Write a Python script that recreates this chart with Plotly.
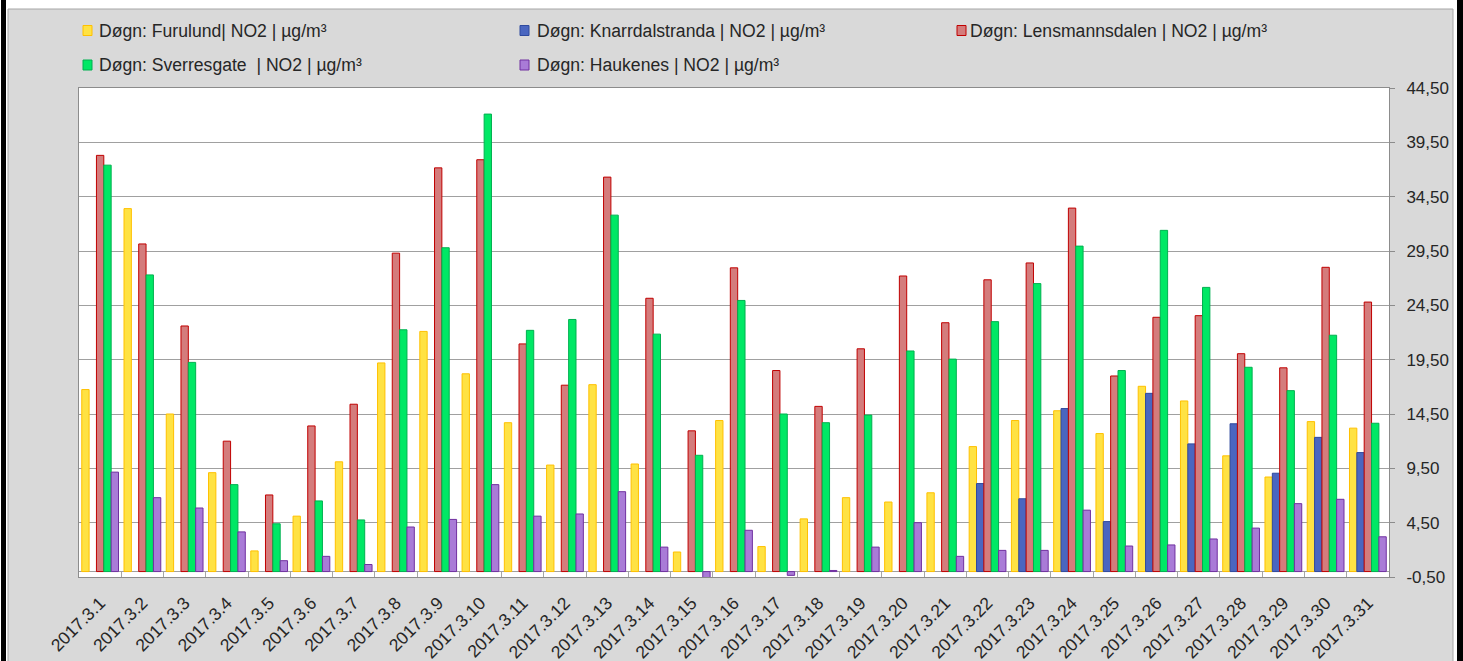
"""
NO2 døgnmiddel, mars 2017 (gruppert stolpediagram)
"""
import plotly.graph_objects as go

# Datoer (kategorier)
dates = ["2017.3.%d" % d for d in range(1, 32)]

# Akseverdier på høyre side
y_ticks = [-0.5, 4.5, 9.5, 14.5, 19.5, 24.5, 29.5, 34.5, 39.5, 44.5]
y_labels = ["%.2f" % v for v in y_ticks]
y_labels = [s.replace(".", ",") for s in y_labels]

# Døgnverdier NO2 (µg/m³) lest av figuren
furulund = [16.75, 33.4, 14.5, 9.1, 1.9, 5.1, 10.1, 19.2, 22.1, 18.2,
            13.7, 9.8, 17.2, 9.9, 1.8, 13.9, 2.3, 4.85, 6.8, 6.4,
            7.25, 11.5, 13.9, 14.8, 12.7, 17.05, 15.7, 10.65, 8.7, 13.8, 13.2]
knarrdalstranda = [None] * 21 + [8.1, 6.7, 15.0, 4.6, 16.4, 11.75, 13.6, 9.05, 12.35, 10.95]
lensmannsdalen = [38.3, 30.15, 22.6, 12.0, 7.05, 13.4, 15.4, 29.3, 37.15, 37.9,
                  20.95, 17.15, 36.3, 25.15, 12.95, 27.95, 18.5, 15.2, 20.5, 27.2,
                  22.9, 26.85, 28.4, 33.45, 18.0, 23.4, 23.55, 20.05, 18.75, 28.0, 24.8]
sverresgate = [37.4, 27.3, 19.25, 8.0, 4.4, 6.5, 4.75, 22.25, 29.8, 42.1,
               22.2, 23.2, 32.8, 21.85, 10.7, 24.95, 14.5, 13.7, 14.4, 20.3,
               19.55, 23.0, 26.5, 29.95, 18.5, 31.4, 26.15, 18.8, 16.65, 21.75, 13.65]
haukenes = [9.15, 6.8, 5.85, 3.65, 1.0, 1.4, 0.65, 4.1, 4.8, 8.0,
            5.1, 5.3, 7.35, 2.25, -0.6, 3.8, -0.35, 0.1, 2.25, 4.5,
            1.4, 1.95, 1.95, 5.65, 2.35, 2.45, 3.0, 4.0, 6.25, 6.65, 3.2]

series = [
    ("Døgn: Furulund| NO2 | µg/m³", furulund, "#FFE243", "#FFC000"),
    ("Døgn: Knarrdalstranda | NO2 | µg/m³", knarrdalstranda, "#4A66C0", "#2F4A9E"),
    ("Døgn: Lensmannsdalen | NO2 | µg/m³", lensmannsdalen, "#D47C7C", "#C00000"),
    ("Døgn: Sverresgate  | NO2 | µg/m³", sverresgate, "#00E865", "#00B050"),
    ("Døgn: Haukenes | NO2 | µg/m³", haukenes, "#A97BD7", "#7030A0"),
]

W, H = 1463, 661
L, R, T, B = 79, 74, 88, 84
PW, PH = W - L - R, H - T - B
FONT = "Liberation Sans"
TXT = "#262626"
GRAY = "#D9D9D9"


def px(x):
    return (x - L) / PW


def py(y):
    return (H - B - y) / PH


def box(x0, x1, y0, y1, **kw):
    return dict(type="rect", xref="paper", yref="paper",
                x0=px(x0), x1=px(x1), y0=py(y1), y1=py(y0), **kw)


fig = go.Figure()
for name, vals, fill, edge in series:
    fig.add_trace(go.Bar(
        x=dates, y=vals, name=name,
        marker=dict(color=fill, line=dict(color=edge, width=1)),
    ))

shapes = [
    # hvit stripe over og til høyre for diagramflaten
    box(-5, W + 5, -5, 9, fillcolor="white", line_width=0, layer="below"),
    box(1453, W + 5, -5, H + 5, fillcolor="white", line_width=0, layer="below"),
    box(-5, 8, -5, H + 5, fillcolor="white", line_width=0, layer="below"),
    # kant rundt diagramflaten
    box(8, 1453, 9, H + 5, line=dict(color="#A6A6A6", width=1), layer="below"),
    # svarte kanter
    box(1, 6, 0, H, fillcolor="black", line_width=0, layer="below"),
    box(1457, W, 0, H, fillcolor="black", line_width=0, layer="below"),
]

annotations = []
# forklaring (tre kolonner, to rader)
leg_pos = [(83, 97, 30.5), (520, 535, 30.5), (957, 968, 30.5), (83, 97, 65), (520, 535, 65)]
for (sx, tx, cy), (name, vals, fill, edge) in zip(leg_pos, series):
    shapes.append(box(sx, sx + 9, cy - 5, cy + 5, fillcolor=fill, line=dict(color=edge, width=1)))
    annotations.append(dict(xref="paper", yref="paper", x=px(tx), y=py(cy),
                            xanchor="left", yanchor="middle", showarrow=False,
                            text=name, font=dict(family=FONT, size=17.6, color=TXT)))

fig.update_layout(
    width=W, height=H,
    margin=dict(l=L, r=R, t=T, b=B),
    paper_bgcolor=GRAY,
    plot_bgcolor="white",
    barmode="group",
    bargap=0.13,
    bargroupgap=0,
    showlegend=False,
    shapes=shapes,
    annotations=annotations,
    font=dict(family=FONT, size=17, color=TXT),
    xaxis=dict(
        type="category",
        automargin=False,
        tickangle=-45,
        tickson="boundaries",
        ticks="inside",
        ticklen=5,
        tickcolor="#A6A6A6",
        ticklabelstandoff=8,
        showgrid=False,
        showline=True,
        linecolor="#8C8C8C",
        mirror=True,
        tickfont=dict(family=FONT, size=17.5, color=TXT),
    ),
    yaxis=dict(
        side="right",
        automargin=False,
        range=[-0.5, 44.5],
        tickmode="array",
        tickvals=y_ticks,
        ticktext=y_labels,
        ticks="outside",
        ticklen=5,
        tickcolor="#8C8C8C",
        ticklabelstandoff=8,
        showgrid=True,
        gridcolor="#A0A0A0",
        gridwidth=1,
        zeroline=True,
        zerolinecolor="#A0A0A0",
        zerolinewidth=1,
        showline=True,
        linecolor="#8C8C8C",
        mirror=True,
        tickfont=dict(family=FONT, size=17, color=TXT),
    ),
)

fig.write_html("out.html", config={"displayModeBar": False},
               post_script="document.body.style.margin = '0'; document.body.style.overflow = 'hidden';")
